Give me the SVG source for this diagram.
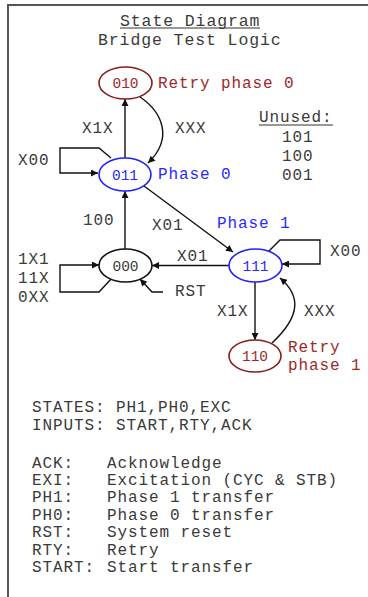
<svg xmlns="http://www.w3.org/2000/svg" width="368" height="597" viewBox="0 0 368 597">
<style>
text{font-family:"Liberation Mono","Courier New",monospace;fill:#3a3a3a}
.t{font-size:16.5px;letter-spacing:0.9px}
.l{font-size:16px;letter-spacing:0.9px}
.n{font-size:14.5px;text-anchor:middle}
.blue{fill:#2a2aff}
.red{fill:#a02828}
.e{fill:#fff;stroke-width:1.6}
.c{fill:none;stroke:#111;stroke-width:1.4}
</style>
<defs>
<marker id="ah" viewBox="0 0 10 10" refX="10" refY="5" markerWidth="9" markerHeight="7" markerUnits="userSpaceOnUse" orient="auto">
<path d="M0,0 L10,5 L0,10 z" fill="#111"/>
</marker>
</defs>
<rect width="368" height="597" fill="#fff"/>
<path d="M7,5 H368 M8,5 V597" fill="none" stroke="#555" stroke-width="2"/>
<g id="title">
<text class="t" x="120" y="26">State Diagram</text>
<line x1="120" y1="28" x2="260" y2="28" stroke="#333" stroke-width="1"/>
<text class="t" x="98" y="45">Bridge Test Logic</text>
</g>
<g id="unused">
<text class="l" x="259" y="122">Unused:</text>
<line x1="259" y1="125" x2="333" y2="125" stroke="#333" stroke-width="1"/>
<text class="l" x="282" y="142">101</text>
<text class="l" x="282" y="161">100</text>
<text class="l" x="282" y="180">001</text>
</g>
<g id="connectors">
<path class="c" d="M125,158 V99" marker-end="url(#ah)"/>
<path class="c" d="M140,97 C162,112 174,138 148,163" marker-end="url(#ah)"/>
<path class="c" d="M111,158 L99,148 H60 V173 H98" marker-end="url(#ah)"/>
<path class="c" d="M125,249 V191" marker-end="url(#ah)"/>
<path class="c" d="M144,186 L233,252" marker-end="url(#ah)"/>
<path class="c" d="M229,265.5 H152" marker-end="url(#ah)"/>
<path class="c" d="M269,251 L280,240 H320 V264 H282" marker-end="url(#ah)"/>
<path class="c" d="M112,278 L99,292 H60 V265 H99" marker-end="url(#ah)"/>
<path class="c" d="M163,292 H152 L140,279" marker-end="url(#ah)"/>
<path class="c" d="M255,282 V340" marker-end="url(#ah)"/>
<path class="c" d="M272,343 C302,315 300,295 280,278" marker-end="url(#ah)"/>
<text class="l" x="82" y="133">X1X</text>
<text class="l" x="175" y="133">XXX</text>
<text class="l" x="18" y="165">X00</text>
<text class="l" x="83" y="225">100</text>
<text class="l" x="152" y="230">X01</text>
<text class="l" x="177" y="261">X01</text>
<text class="l" x="330" y="256">X00</text>
<text class="l" x="18" y="264">1X1</text>
<text class="l" x="18" y="283">11X</text>
<text class="l" x="18" y="302">0XX</text>
<text class="l" x="175" y="296">RST</text>
<text class="l" x="217" y="316">X1X</text>
<text class="l" x="304" y="316">XXX</text>
</g>
<g id="s010">
<ellipse class="e" cx="125.5" cy="83" rx="26.5" ry="16" stroke="#8b1a1a"/>
<text class="n red" x="125.5" y="88">010</text>
<text class="l red" x="158" y="88">Retry phase 0</text>
</g>
<g id="s011">
<ellipse class="e" cx="125" cy="174.5" rx="26" ry="16.5" stroke="#2020ff"/>
<text class="n blue" x="125" y="180">011</text>
<text class="l blue" x="158" y="179">Phase 0</text>
</g>
<g id="s000">
<ellipse class="e" cx="125.5" cy="265.5" rx="26.5" ry="16.5" stroke="#111"/>
<text class="n" x="125.5" y="271">000</text>
</g>
<g id="s111">
<ellipse class="e" cx="255.5" cy="265.5" rx="26.5" ry="16.5" stroke="#2020ff"/>
<text class="n blue" x="255.5" y="271">111</text>
<text class="l blue" x="217" y="228">Phase 1</text>
</g>
<g id="s110">
<ellipse class="e" cx="255" cy="356" rx="26" ry="16" stroke="#8b1a1a"/>
<text class="n red" x="255" y="361">110</text>
<text class="l red" x="288" y="352">Retry</text>
<text class="l red" x="288" y="370">phase 1</text>
</g>
<g id="legend">
<text class="l" x="32" y="412">STATES: PH1,PH0,EXC</text>
<text class="l" x="32" y="430">INPUTS: START,RTY,ACK</text>
<text class="l" x="32" y="468">ACK:</text>
<text class="l" x="107" y="468">Acknowledge</text>
<text class="l" x="32" y="485">EXI:</text>
<text class="l" x="107" y="485">Excitation (CYC &amp; STB)</text>
<text class="l" x="32" y="502">PH1:</text>
<text class="l" x="107" y="502">Phase 1 transfer</text>
<text class="l" x="32" y="520">PH0:</text>
<text class="l" x="107" y="520">Phase 0 transfer</text>
<text class="l" x="32" y="537">RST:</text>
<text class="l" x="107" y="537">System reset</text>
<text class="l" x="32" y="555">RTY:</text>
<text class="l" x="107" y="555">Retry</text>
<text class="l" x="32" y="572">START:</text>
<text class="l" x="107" y="572">Start transfer</text>
</g>
</svg>
